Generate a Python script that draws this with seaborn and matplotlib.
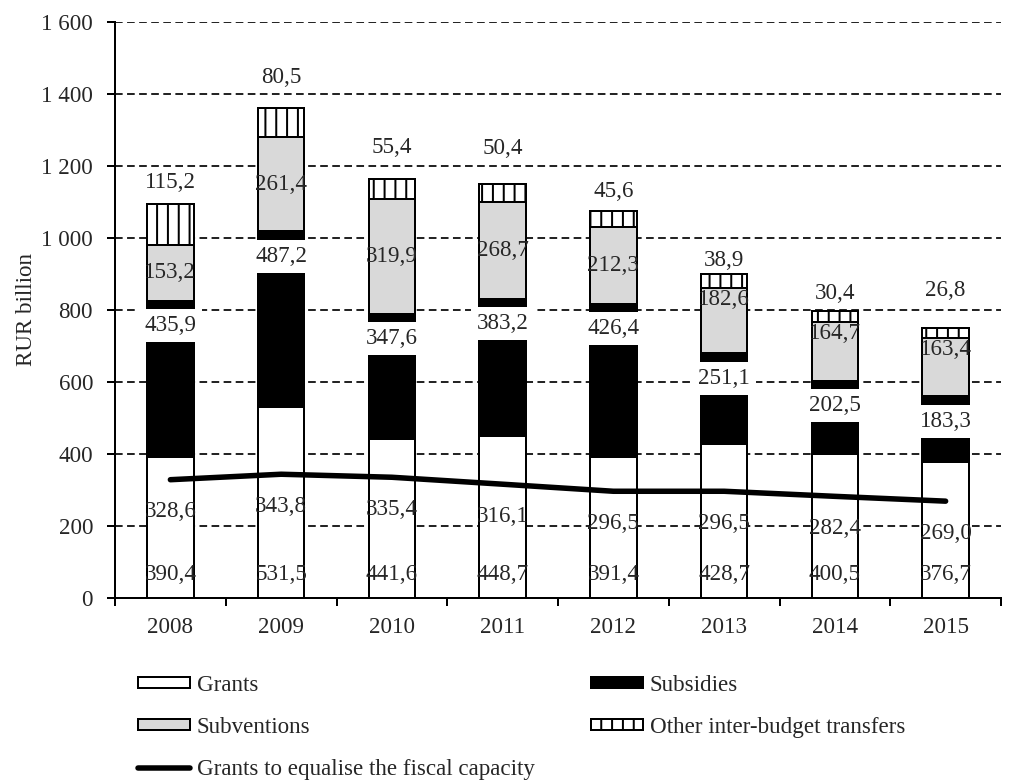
import numpy as np
import matplotlib
matplotlib.use("Agg")
import matplotlib.pyplot as plt
import seaborn as sns
from matplotlib.patches import Patch
from matplotlib.lines import Line2D
from matplotlib.ticker import FuncFormatter, FixedLocator

# Data (RUR billion)
years = ['2008', '2009', '2010', '2011', '2012', '2013', '2014', '2015']
grants = [390.4, 531.5, 441.6, 448.7, 391.4, 428.7, 400.5, 376.7]
subsidies = [435.9, 487.2, 347.6, 383.2, 426.4, 251.1, 202.5, 183.3]
subventions = [153.2, 261.4, 319.9, 268.7, 212.3, 182.6, 164.7, 163.4]
other = [115.2, 80.5, 55.4, 50.4, 45.6, 38.9, 30.4, 26.8]
equalisation = [328.6, 343.8, 335.4, 316.1, 296.5, 296.5, 282.4, 269.0]

# label placement (styling only)
subv_label_place = ['center'] * 5 + ['top'] * 3
other_label_lift = [21, 31, 31, 35, 19, 13, 17, 37]  # px above bar top

DPI = 130
W, H = 1012, 780


def pt(px):
    # pixels -> points
    return px * 72.0 / DPI


def fmt(v):
    return f"{v:.1f}".replace('.', ',')


sns.set_style('white')
plt.rcParams['font.family'] = ['Liberation Serif', 'DejaVu Serif']
plt.rcParams['hatch.linewidth'] = pt(2)
FS = pt(23)

fig = plt.figure(figsize=(W / DPI, H / DPI), dpi=DPI)
ax = fig.add_axes([115 / W, 1 - 598 / H, (1001 - 115) / W, (598 - 22) / H])

g = np.array(grants)
s = np.array(subsidies)
v = np.array(subventions)
o = np.array(other)

# stacked bars drawn as overlapping cumulative totals
layers = [
    (g + s + v + o, 'white', '||'),
    (g + s + v, '#d9d9d9', None),
    (g + s, 'black', None),
    (g, 'white', None),
]
for vals, col, hatch in layers:
    sns.barplot(x=years, y=vals, color=col, saturation=1, edgecolor='black',
                linewidth=pt(2), width=0.42, hatch=hatch, errorbar=None, ax=ax)

sns.lineplot(x=years, y=equalisation, color='black', linewidth=pt(5.5),
             solid_capstyle='round', legend=False, ax=ax)

# data labels
for i in range(len(years)):
    ax.annotate(fmt(grants[i]), xy=(i, 0), xytext=(0, pt(23)),
                textcoords='offset points', ha='center', va='center', fontsize=FS)
    ax.annotate(fmt(equalisation[i]), xy=(i, equalisation[i]), xytext=(0, -pt(32)),
                textcoords='offset points', ha='center', va='center', fontsize=FS)
    ax.annotate(fmt(subsidies[i]), xy=(i, g[i] + s[i]), xytext=(0, -pt(25)),
                textcoords='offset points', ha='center', va='center', fontsize=FS,
                zorder=5,
                bbox=dict(boxstyle='square,pad=0.26', facecolor='white', edgecolor='none'))
    base = g[i] + s[i]
    if subv_label_place[i] == 'center':
        ax.annotate(fmt(subventions[i]), xy=(i, base + v[i] / 2), ha='center',
                    va='center', fontsize=FS, zorder=5)
    else:
        ax.annotate(fmt(subventions[i]), xy=(i, base + v[i]), xytext=(0, -pt(12)),
                    textcoords='offset points', ha='center', va='center',
                    fontsize=FS, zorder=5)
    ax.annotate(fmt(other[i]), xy=(i, base + v[i] + o[i]),
                xytext=(0, pt(other_label_lift[i])), textcoords='offset points',
                ha='center', va='center', fontsize=FS)

# axes styling
ax.set_xlim(-0.5, len(years) - 0.5)
ax.set_ylim(0, 1600)
ax.set_yticks(np.arange(0, 1601, 200))
ax.yaxis.set_major_formatter(FuncFormatter(lambda y, _: f"{y:,.0f}".replace(',', ' ')))
ax.set_xlabel('')
ax.set_ylabel('RUR billion', fontsize=FS, labelpad=pt(4))
ax.xaxis.set_minor_locator(FixedLocator(np.arange(-0.5, len(years), 1.0)))
ax.tick_params(axis='x', which='major', length=0, pad=pt(19), labelsize=FS)
ax.tick_params(axis='x', which='minor', length=pt(8), width=pt(2), direction='out',
               color='black', bottom=True)
ax.tick_params(axis='y', which='major', length=pt(8), width=pt(2), direction='out',
               pad=pt(14), labelsize=FS, color='black', left=True)

for side in ['top', 'right']:
    ax.spines[side].set_visible(False)
for side in ['left', 'bottom']:
    ax.spines[side].set_color('black')
    ax.spines[side].set_linewidth(pt(2))

ax.set_axisbelow(True)
ax.yaxis.grid(True, color='black', linewidth=pt(1.7), linestyle=(0, (4.5, 2.6)))
ax.xaxis.grid(False)

# legend (column-major order to read row by row)
h_grants = Patch(facecolor='white', edgecolor='black', linewidth=pt(2))
h_subs = Patch(facecolor='black', edgecolor='black', linewidth=pt(2))
h_subv = Patch(facecolor='#d9d9d9', edgecolor='black', linewidth=pt(2))
h_other = Patch(facecolor='white', edgecolor='black', linewidth=pt(2), hatch='||')
h_line = Line2D([], [], color='black', linewidth=pt(5.5), solid_capstyle='round')
handles = [h_grants, h_subv, h_line, h_subs, h_other]
labels = ['Grants', 'Subventions', 'Grants to equalise the fiscal capacity',
          'Subsidies', 'Other inter-budget transfers']
fig.legend(handles, labels, ncol=2, loc='upper left',
           bbox_to_anchor=(138 / W, 1 - 675 / H), frameon=False,
           fontsize=FS, handlelength=2.26, handleheight=0.35, handletextpad=0.3,
           labelspacing=0.92, columnspacing=2.45, borderpad=0, borderaxespad=0)

fig.savefig('out.png', dpi=DPI)
